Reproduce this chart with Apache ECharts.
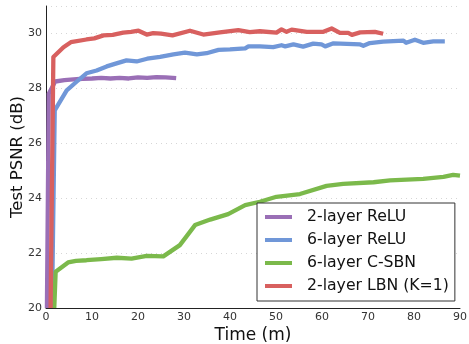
<!DOCTYPE html>
<html>
<head>
<meta charset="utf-8">
<script src="https://cdn.jsdelivr.net/npm/echarts@6/dist/echarts.min.js"></script>
<style>
  html, body { margin: 0; padding: 0; background: #fff; }
  #main { width: 469px; height: 344px; }
</style>
</head>
<body>
<div id="main"></div>
<script>
// time (m), PSNR (dB) pairs
const relu2 = [
  [0.2, 20], [0.6, 27.8], [2, 28.25], [4, 28.3], [6, 28.33], [8, 28.35], [10, 28.36],
  [12, 28.38], [14, 28.36], [16, 28.38], [18, 28.36], [20, 28.4], [22, 28.38],
  [24, 28.41], [26, 28.4], [28.3, 28.37]
];
const relu6 = [
  [1.3, 20], [1.9, 27.2], [4.5, 27.93], [6.7, 28.25], [8.8, 28.55], [11, 28.65],
  [13.2, 28.8], [15.5, 28.92], [17.5, 29.02], [19.7, 28.98], [22, 29.08], [24.8, 29.15],
  [27.7, 29.24], [30.2, 29.3], [32.8, 29.24], [34.9, 29.28], [37.5, 29.4], [40, 29.42],
  [43.3, 29.46], [44, 29.53], [46.5, 29.53], [49.4, 29.5], [51.2, 29.57], [52, 29.53],
  [53.8, 29.6], [55.9, 29.52], [58.1, 29.63], [59.9, 29.6], [60.7, 29.53], [62.5, 29.64],
  [68.3, 29.6], [69, 29.55], [70.4, 29.65], [73.3, 29.7], [77.7, 29.74], [78.3, 29.66],
  [80.2, 29.77], [82, 29.66], [84.2, 29.71], [86.7, 29.71]
];
const csbn6 = [
  [1.8, 20], [2.1, 21.32], [4.8, 21.66], [6.5, 21.72], [8.8, 21.74], [12, 21.78],
  [15.4, 21.83], [18.6, 21.8], [21.9, 21.9], [25.5, 21.88], [29.1, 22.29], [32.4, 23.02],
  [35.7, 23.22], [39.6, 23.42], [43.3, 23.75], [46.5, 23.87], [50.1, 24.05], [55.2, 24.15],
  [61, 24.45], [64.6, 24.52], [71.2, 24.58], [74.8, 24.65], [82, 24.7], [86.4, 24.78],
  [88.5, 24.85], [90, 24.82]
];
const lbn2 = [
  [1.0, 20], [1.6, 29.14], [2.0, 29.2], [3.8, 29.5], [5.4, 29.68], [8.8, 29.78],
  [10.5, 29.82], [12.5, 29.93], [14.5, 29.95], [16.8, 30.03], [18.5, 30.06], [20.1, 30.1],
  [21.9, 29.96], [23.3, 30.01], [25, 29.99], [27.5, 29.93], [31.3, 30.1], [34.2, 29.96],
  [37.8, 30.04], [41.8, 30.12], [44.3, 30.05], [46.5, 30.08], [50.1, 30.03], [51.2, 30.15],
  [52.3, 30.06], [53.4, 30.14], [56.7, 30.06], [60.3, 30.06], [62.1, 30.18], [63.9, 30.02],
  [65.7, 30.02], [66.5, 29.95], [68.3, 30.04], [71.5, 30.06], [73.3, 29.99]
];

const names = ['2-layer ReLU', '6-layer ReLU', '6-layer C-SBN', '2-layer LBN (K=1)'];
const colors = ['#9a6fb6', '#7097d8', '#7bb94b', '#d8605f'];
const seriesData = [relu2, relu6, csbn6, lbn2];

const font = 'DejaVu Sans';
const chart = echarts.init(document.getElementById('main'));

chart.setOption({
  animation: false,
  textStyle: { fontFamily: font },
  grid: { left: 46, right: 9, top: 6, bottom: 36, containLabel: false, outerBoundsMode: 'none' },
  xAxis: {
    type: 'value', min: 0, max: 90, interval: 10,
    name: 'Time (m)', nameLocation: 'middle', nameGap: 19, nameMoveOverlap: false,
    nameTextStyle: { fontSize: 17, color: '#111', fontFamily: font, verticalAlign: 'top' },
    axisLine: { show: true, lineStyle: { color: '#222', width: 1 } },
    axisTick: { show: false },
    axisLabel: { fontSize: 11, color: '#333', margin: 4, fontFamily: font },
    splitLine: { show: false }
  },
  yAxis: {
    type: 'value', min: 20, max: 31, interval: 2,
    name: 'Test PSNR (dB)', nameLocation: 'middle', nameGap: 20, nameMoveOverlap: false,
    nameTextStyle: { fontSize: 16.5, color: '#111', fontFamily: font },
    axisLine: { show: true, lineStyle: { color: '#222', width: 1 } },
    axisTick: { show: false },
    axisLabel: {
      fontSize: 11, color: '#333', margin: 4, fontFamily: font,
      formatter: v => (v > 30 ? '' : v)
    },
    splitLine: { show: true, lineStyle: { color: '#d6d6d6', type: [1, 4], width: 1 } }
  },
  legend: {
    orient: 'vertical', left: 257, top: 203,
    padding: [5, 6, 6, 8],
    itemWidth: 27, itemHeight: 4, itemGap: 5,
    icon: 'rect',
    backgroundColor: '#fff',
    borderColor: '#333', borderWidth: 1, borderRadius: 0,
    textStyle: { fontSize: 15.7, color: '#111', fontFamily: font, lineHeight: 18, padding: [0, 0, 0, 10] },
    data: names
  },
  series: seriesData.map((d, i) => ({
    name: names[i],
    type: 'line',
    data: d,
    showSymbol: false,
    symbol: 'none',
    clip: true,
    z: i === 3 ? 4 : 2 + i * 0.1,
    lineStyle: { color: colors[i], width: 4.3, join: 'round' },
    itemStyle: { color: colors[i] }
  }))
});
</script>
</body>
</html>
